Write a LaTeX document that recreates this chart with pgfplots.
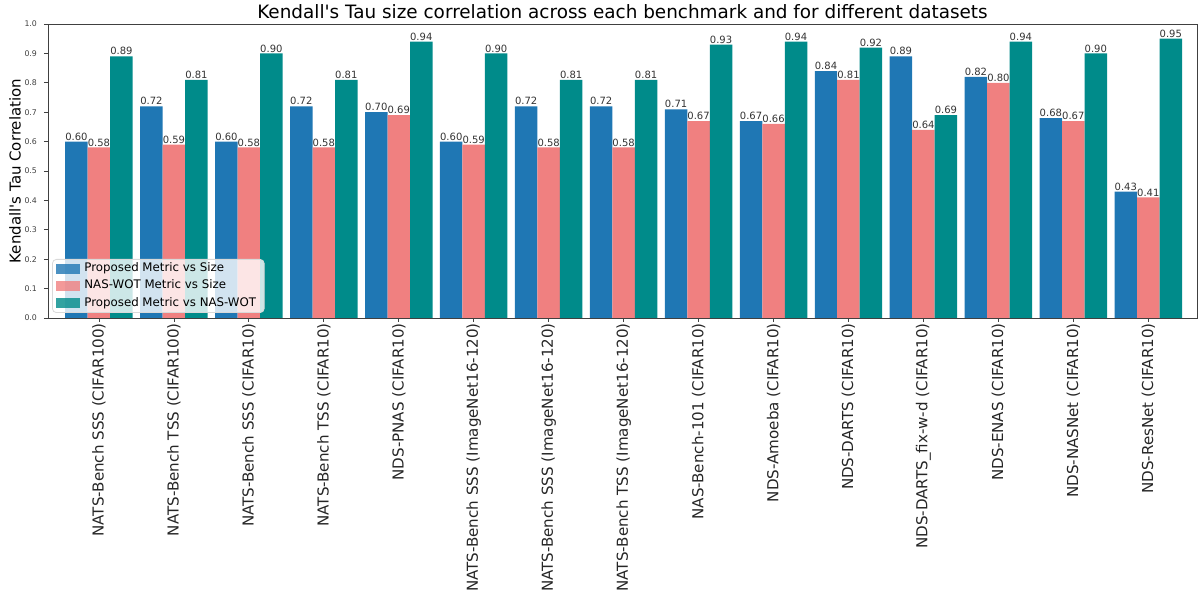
\documentclass[border=0pt]{standalone}
\usepackage{fontspec}
\setmainfont{DejaVu Sans}
\usepackage{pgfplots}
\usepackage{pgfplotstable}
\pgfplotsset{compat=1.18}
\definecolor{cblue}{HTML}{1F77B4}
\definecolor{cred}{HTML}{F08080}
\definecolor{cteal}{HTML}{008B8A}

\pgfplotstableread{
x a b c
0 0.60 0.58 0.89
1 0.72 0.59 0.81
2 0.60 0.58 0.90
3 0.72 0.58 0.81
4 0.70 0.69 0.94
5 0.60 0.59 0.90
6 0.72 0.58 0.81
7 0.72 0.58 0.81
8 0.71 0.67 0.93
9 0.67 0.66 0.94
10 0.84 0.81 0.92
11 0.89 0.64 0.69
12 0.82 0.80 0.94
13 0.68 0.67 0.90
14 0.43 0.41 0.95
}\datatable

\begin{document}
\begin{tikzpicture}
\useasboundingbox (-24pt,-140pt) rectangle (576pt,159pt);
\begin{axis}[
  at={(0pt,0pt)}, anchor=south west,
  scale only axis, width=574.5pt, height=147pt,
  xmin=-0.68, xmax=14.65, ymin=0, ymax=1,
  ybar, bar width=0.3,
  axis line style={black!75, line width=0.4pt},
  tick align=outside, tick pos=left,
  major tick length=2pt,
  every tick/.style={black!75, line width=0.4pt},
  xtick={0,...,14},
  xticklabels={
    {NATS-Bench SSS (CIFAR100)},
    {NATS-Bench TSS (CIFAR100)},
    {NATS-Bench SSS (CIFAR10)},
    {NATS-Bench TSS (CIFAR10)},
    {NDS-PNAS (CIFAR10)},
    {NATS-Bench SSS (ImageNet16-120)},
    {NATS-Bench SSS (ImageNet16-120)},
    {NATS-Bench TSS (ImageNet16-120)},
    {NAS-Bench-101 (CIFAR10)},
    {NDS-Amoeba (CIFAR10)},
    {NDS-DARTS (CIFAR10)},
    {NDS-DARTS\_fix-w-d (CIFAR10)},
    {NDS-ENAS (CIFAR10)},
    {NDS-NASNet (CIFAR10)},
    {NDS-ResNet (CIFAR10)}},
  xticklabel style={rotate=90, anchor=east, inner sep=0.4pt, font=\fontsize{7.55}{9}\selectfont, text=black!85},
  ytick={0,0.1,...,1.0},
  yticklabel style={font=\fontsize{3.9}{4.5}\selectfont, text=black!75,
    /pgf/number format/fixed, /pgf/number format/precision=1,
    /pgf/number format/fixed zerofill, /pgf/number format/assume math mode=true},
  every axis title shift=0pt,
  title={Kendall\textquotesingle s Tau size correlation across each benchmark and for different datasets},
  title style={at={(0.5,1)}, anchor=base, yshift=2.5pt, font=\fontsize{9.2}{11}\selectfont},
  ylabel={Kendall\textquotesingle s Tau Correlation},
  every axis y label/.style={at={(axis description cs:-0.0287,0.5)}, rotate=90, anchor=center, font=\fontsize{7.5}{9}\selectfont},
  nodes near coords,
  nodes near coords style={font=\fontsize{5}{5.5}\selectfont, text=black!80, inner sep=0.4pt, anchor=south,
    /pgf/number format/fixed, /pgf/number format/precision=2,
    /pgf/number format/fixed zerofill, /pgf/number format/assume math mode=true},
  legend style={at={(0.0035,0.017)}, anchor=south west,
    font=\fontsize{5.9}{6.5}\selectfont, draw=black!15, fill=white,
    fill opacity=0.8, text opacity=1, rounded corners=2pt,
    inner xsep=2pt, inner ysep=1.2pt, row sep=1.6pt,
    nodes={inner ysep=0.6pt, text height=4.4pt, text depth=1.4pt}},
  legend cell align=left,
  legend image code/.code={\fill[#1, sharp corners] (0pt,-2.5pt) rectangle (12pt,2.5pt);},
]
\addplot[fill=cblue, draw=none, bar shift=-0.3] table[x=x, y=a] {\datatable};
\addplot[fill=cred, draw=none, bar shift=0] table[x=x, y=b] {\datatable};
\addplot[fill=cteal, draw=none, bar shift=0.3] table[x=x, y=c] {\datatable};
\legend{Proposed Metric vs Size, NAS-WOT Metric vs Size, Proposed Metric vs NAS-WOT}
\end{axis}
\end{tikzpicture}
\end{document}
